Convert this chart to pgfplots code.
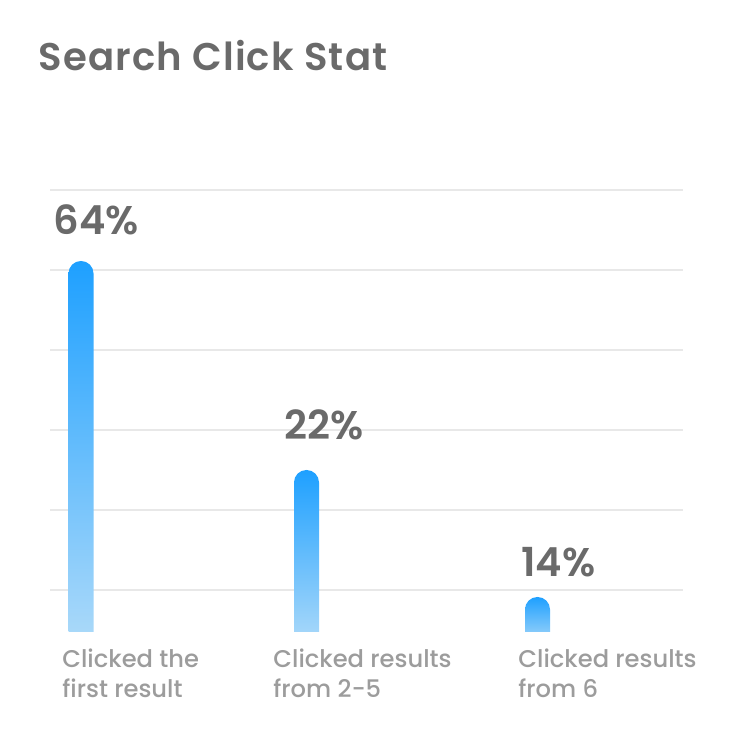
\documentclass[border=0pt]{standalone}
\usepackage{fontspec}
\setmainfont{Poppins}
\newfontfamily\popsemi{Poppins SemiBold}
\newfontfamily\popmed{Poppins Medium}
\newfontfamily\poptitle[LetterSpace=3]{Poppins SemiBold}
\usepackage{pgfplots}
\pgfplotsset{compat=1.18}
\definecolor{titlec}{HTML}{6A6A6A}
\definecolor{catc}{HTML}{9C9C9C}
\definecolor{gridc}{HTML}{E8E8E8}
\definecolor{barTop}{HTML}{1EA0FF}
\definecolor{barBot}{HTML}{ADDAF9}
\pgfplotsset{roundbar/.style={ybar, bar width=12.5pt, bar shift=0pt, draw=none,
  top color=barTop, bottom color=barBot, rounded corners=6.2pt}}
\begin{document}
\begin{tikzpicture}[x=0.5pt,y=0.5pt]
\useasboundingbox (0,0) rectangle (732,732);
\begin{axis}[
  at={(25pt,43.5pt)}, anchor=south west,
  scale only axis, width=316.5pt, height=227.5pt,
  xmin=50, xmax=683, ymin=0, ymax=455,
  clip=true,
  axis line style={draw=none},
  major tick length=0pt,
  ytick={55,135,215,295,375,455}, yticklabels={},
  ymajorgrids, grid style={draw=gridc, line width=1pt},
  xtick={62,273,518},
  xticklabels={{Clicked the\\first result},{Clicked results\\from 2-5},{Clicked results\\from 6}},
  xticklabel style={anchor=north west, align=left, inner sep=0pt, yshift=-1.5pt,
    font=\popmed\fontsize{12.1}{15}\selectfont, text=catc},
  every axis title shift=0pt,
  title={Search Click Stat},
  title style={at={(axis description cs:-0.019,1.2637)}, anchor=base west, inner sep=0pt,
    font=\poptitle\fontsize{19.3}{21}\selectfont, text=titlec},
]
\clip (axis cs:50,13) rectangle (axis cs:683,455);
\addplot[roundbar] coordinates {(81,384)};
\addplot[roundbar] coordinates {(306.5,175)};
\addplot[roundbar] coordinates {(537.5,48)};
\addplot[draw=none, mark=none, nodes near coords, point meta=explicit symbolic,
  every node near coord/.append style={anchor=base west, inner sep=0pt,
    font=\popsemi\fontsize{20}{22}\selectfont, text=titlec}]
  coordinates {(53,410) [64\%] (284,205) [22\%] (521,68) [14\%]};
\end{axis}
\end{tikzpicture}
\end{document}
